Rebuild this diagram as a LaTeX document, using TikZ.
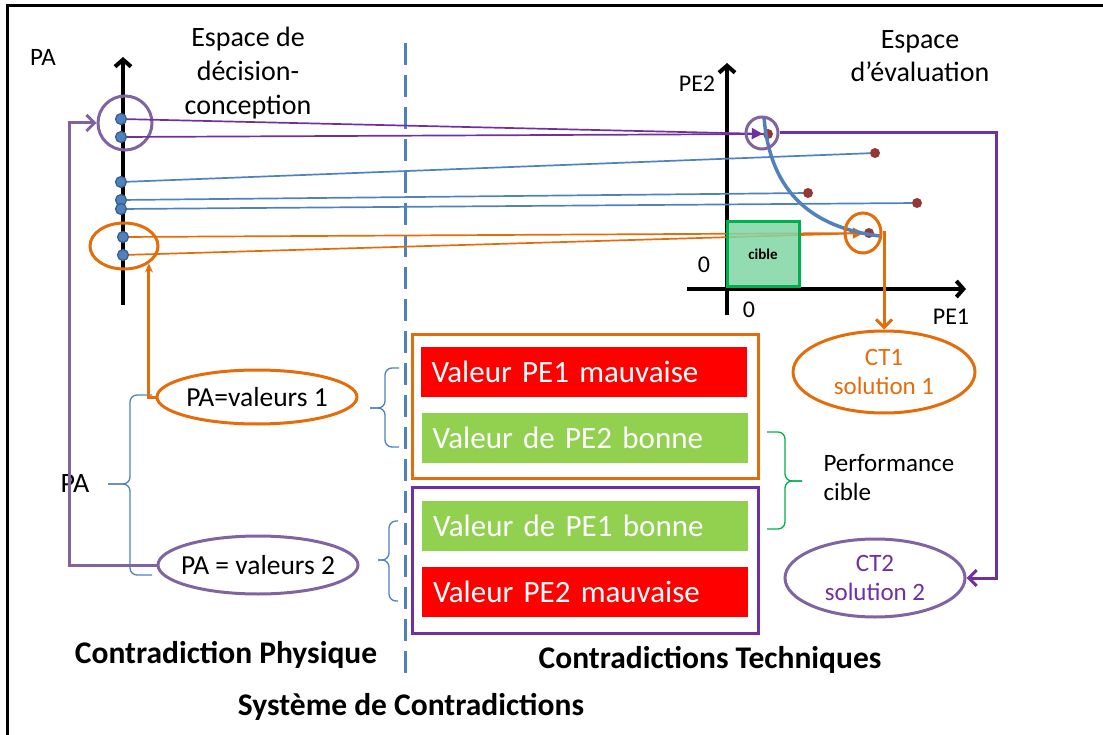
\documentclass[tikz,border=0pt]{standalone}
\usepackage{fontspec}
\setmainfont{Carlito}
\usetikzlibrary{shapes.geometric, arrows.meta, positioning, calc}
\definecolor{ppurple}{RGB}{112,48,160}
\definecolor{plavender}{RGB}{128,100,162}
\definecolor{porange}{RGB}{228,108,10}
\definecolor{pblue}{RGB}{79,129,189}
\definecolor{dotborder}{RGB}{56,93,138}
\definecolor{dotred}{RGB}{149,55,53}
\definecolor{boxred}{RGB}{255,0,0}
\definecolor{boxgreen}{RGB}{146,208,80}
\definecolor{targetgreen}{RGB}{0,176,80}
\definecolor{targetfill}{RGB}{128,214,164}

\begin{document}
\begin{tikzpicture}[
    x=1pt, y=-1pt,
    every node/.style={font=\fontsize{25}{29}\selectfont},
    padot/.style={circle, fill=pblue, draw=dotborder, line width=1.2pt,
      minimum size=11pt, inner sep=0pt},
    pedot/.style={circle, fill=dotred, minimum size=10pt, inner sep=0pt},
    valbox/.style={rectangle, minimum height=50pt, text width=304pt,
      inner xsep=11pt, inner ysep=0pt, align=left, text=white,
      font=\fontsize{31}{36}\selectfont},
    badbox/.style={valbox, fill=boxred},
    goodbox/.style={valbox, fill=boxgreen},
    frame/.style={rectangle, line width=3pt, minimum width=346pt, inner sep=0pt},
    oval/.style={ellipse, line width=3pt, inner sep=0pt, align=center},
    thinline/.style={line width=1.7pt},
    conn/.style={line width=3pt},
    axis/.style={line width=4pt, -{Straight Barb[length=7pt,width=16pt]}},
    curly/.style={rounded corners=7pt, line width=1.3pt},
    title/.style={font=\bfseries\fontsize{31.5}{36}\selectfont}
  ]
    \useasboundingbox (0,0) rectangle (1103,735);
    \draw[line width=3pt] (7,735) -- (7,6) -- (1103,6);

    % separation des deux espaces
    \draw[pblue, line width=3pt, dash pattern=on 22pt off 10pt] (405,43) -- (405,675);

    % espace de decision-conception
    \draw[axis] (123,305) -- (123,57);
    \node (pa) at (43,57) {PA};
    \node[align=center, font=\fontsize{28}{34}\selectfont] (decision) at (248,73)
      {Espace de\\décision-\\conception};
    \node[padot] (a1) at (121,119) {};
    \node[padot] (a2) at (121,137) {};
    \node[padot] (a3) at (121,182) {};
    \node[padot] (a4) at (121,200) {};
    \node[padot] (a5) at (121,209) {};
    \node[padot] (a6) at (123,237) {};
    \node[padot] (a7) at (123,255) {};
    \node[oval, draw=plavender, minimum size=54pt] (pcirc) at (125,123) {};
    \node[oval, draw=porange, minimum width=68pt, minimum height=46pt] (ocirc) at (124,246) {};

    % espace d'evaluation
    \draw[axis] (727,315) -- (727,63);
    \draw[axis] (687,289) -- (966,289);
    \node[font=\fontsize{24}{28}\selectfont] (pe2) at (697,84) {PE2};
    \node[font=\fontsize{24}{28}\selectfont] (pe1) at (951,317) {PE1};
    \node[font=\fontsize{24}{28}\selectfont] (zeroy) at (704,265) {0};
    \node[font=\fontsize{24}{28}\selectfont] (zerox) at (749,310) {0};
    \node[align=center, font=\fontsize{28}{33}\selectfont] (evaluation) at (920,56)
      {Espace\\d’évaluation};
    \node[pedot] (e1) at (768,134) {};
    \node[pedot] (e2) at (875,153) {};
    \node[pedot] (e3) at (808,193) {};
    \node[pedot] (e4) at (917,203) {};
    \node[pedot] (e5) at (869,233) {};

    \draw[thinline, ppurple, -{Triangle[length=11pt,width=11pt]}] (a1) -- (e1);
    \draw[thinline, ppurple] (a2) -- (e1);
    \draw[thinline, pblue] (a3) -- (e2);
    \draw[thinline, pblue] (a4) -- (e3);
    \draw[thinline, pblue] (a5) -- (e4);
    \draw[thinline, porange, -{Triangle[length=11pt,width=11pt]}] (a6) -- (e5);
    \draw[thinline, porange] (a7) -- (e5);

    \node[rectangle, draw=targetgreen, line width=3pt, fill=targetfill, fill opacity=0.85,
      text opacity=1, minimum width=72pt, minimum height=65pt, inner sep=0pt,
      font=\bfseries\fontsize{15}{18}\selectfont] (cible) at (763,254.5) {cible};
    \draw[pblue, line width=3.5pt] (764,117) .. controls (770,195) and (815,228) .. (880,236);
    \node[oval, draw=plavender, minimum size=32pt] (epc) at (762,133) {};
    \node[oval, draw=porange, minimum width=36pt, minimum height=40pt] (eoc) at (863,233) {};

    % valeurs de PA
    \node[oval, draw=porange, inner xsep=-2pt, minimum width=200pt, minimum height=54pt,
      font=\fontsize{27.5}{32}\selectfont] (val1) at (257,397) {PA=valeurs 1};
    \node[oval, draw=plavender, inner xsep=-9pt, minimum width=200pt, minimum height=58pt,
      font=\fontsize{27.5}{32}\selectfont] (val2) at (258,565) {PA = valeurs 2};
    \coordinate (pturn) at (69,565);
    \node[font=\fontsize{28}{32}\selectfont] (pamid) at (75,484) {PA};
    \draw[curly, pblue] (152,395) -- (130,395) -- (130,484) -- (108,484);
    \draw[curly, pblue] (152,575) -- (130,575) -- (130,484) -- (108,484);
    \draw[conn, porange, -{Stealth[length=9pt,width=8pt]}] (val1.west) -| (ocirc.-35);
    \draw[conn, plavender, -{Straight Barb[length=8pt,width=16pt]}] (val2.west) -- (pturn) |- (pcirc.west);

    % contradictions techniques
    \node[frame, draw=porange, minimum height=144pt] (ofr) at (585,406) {};
    \node[frame, draw=ppurple, minimum height=146pt] (pfr) at (585,560) {};
    \node[badbox] (bad1) at (583.5,372) {Valeur PE1 mauvaise};
    \node[goodbox] (good1) at (584.5,438) {Valeur de PE2 bonne};
    \node[goodbox] (good2) at (585,526) {Valeur de PE1 bonne};
    \node[badbox] (bad2) at (585,592) {Valeur PE2 mauvaise};
    \draw[curly, pblue] (399,368) -- (385,368) -- (385,408) -- (370,408);
    \draw[curly, pblue] (399,447) -- (385,447) -- (385,408) -- (370,408);
    \draw[curly, pblue] (398,521) -- (389,521) -- (389,560) -- (378,560);
    \draw[curly, pblue] (398,601) -- (389,601) -- (389,560) -- (378,560);
    \draw[curly, targetgreen] (767,432) -- (785,432) -- (785,481) -- (802,481);
    \draw[curly, targetgreen] (767,529) -- (785,529) -- (785,481) -- (802,481);
    \node[align=left, anchor=west] (perf) at (820,478) {Performance\\cible};

    \node[oval, draw=porange, text=porange, minimum width=182pt, minimum height=82pt] (ct1)
      at (884,372) {CT1\\solution 1};
    \node[oval, draw=plavender, text=ppurple, minimum width=180pt, minimum height=78pt] (ct2)
      at (875,578) {CT2\\solution 2};
    \draw[conn, porange, -{Straight Barb[length=8pt,width=16pt]}] (eoc.east) -| (ct1.north);
    \draw[conn, ppurple, -{Straight Barb[length=8pt,width=16pt]}] (epc.east) -- ++(217,0) |- (ct2.east);

    % titres
    \node[title] (physique) at (226,655) {Contradiction Physique};
    \node[title] (technique) at (710,660) {Contradictions Techniques};
    \node[title] (systeme) at (411,707) {Système de Contradictions};
\end{tikzpicture}
\end{document}
